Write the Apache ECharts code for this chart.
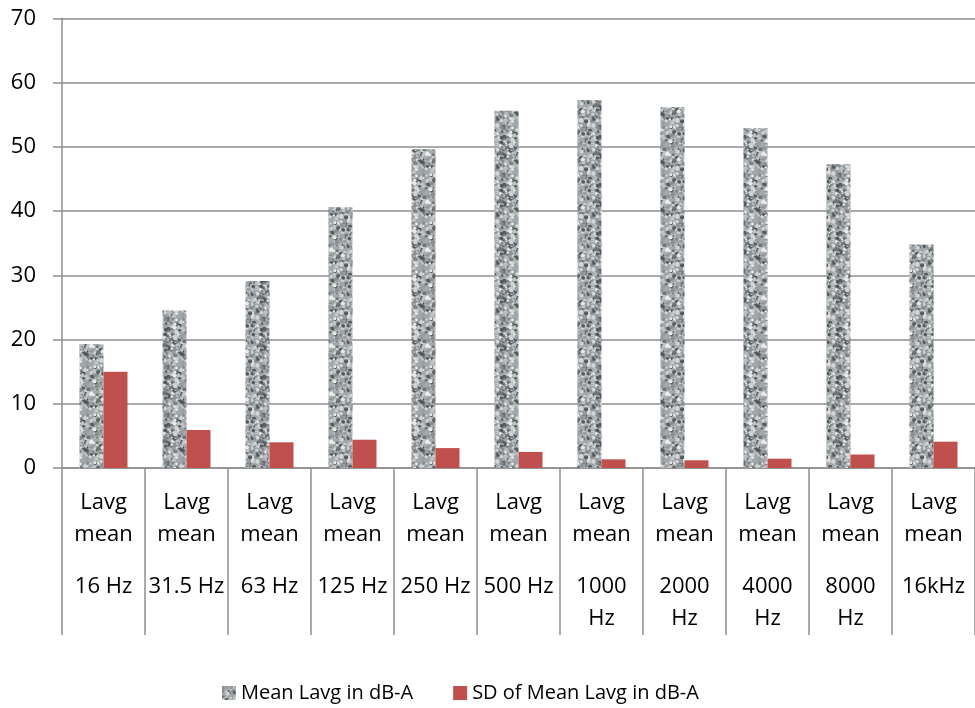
<!DOCTYPE html>
<html>
<head>
<meta charset="utf-8">
<script src="https://cdn.jsdelivr.net/npm/echarts@6/dist/echarts.min.js"></script>
<style>
html,body{margin:0;padding:0;background:#fff;}
#chart{width:975px;height:708px;}
</style>
</head>
<body>
<div id="chart"></div>
<script>
// ---- data ----
var categoryTop = 'Lavg\nmean';
var freqLabels = ['16 Hz','31.5 Hz','63 Hz','125 Hz','250 Hz','500 Hz','1000\nHz','2000\nHz','4000\nHz','8000\nHz','16kHz'];
var meanLavg = [19.3, 24.5, 29.1, 40.6, 49.6, 55.6, 57.3, 56.2, 52.9, 47.3, 34.8];
var sdLavg   = [15.0, 5.9, 4.0, 4.4, 3.1, 2.5, 1.35, 1.2, 1.45, 2.1, 4.1];
var seriesNames = ['Mean Lavg in dB-A', 'SD of Mean Lavg in dB-A'];
var yMin = 0, yMax = 70, yStep = 10;

// ---- texture for the mean bars (style only) ----
function makeTexture() {
  var c = document.createElement('canvas');
  c.width = 48; c.height = 48;
  var ctx = c.getContext('2d');
  ctx.fillStyle = '#a4a9ac';
  ctx.fillRect(0, 0, 48, 48);
  var seed = 12345;
  function rnd() { seed = (seed * 1103515245 + 12345) % 2147483648; return seed / 2147483648; }
  var cols = ['#54595c', '#6f7477', '#d2d6d8', '#e8ebec', '#878c8f', '#bfc3c5', '#989da0'];
  for (var i = 0; i < 420; i++) {
    var x = rnd() * 48, y = rnd() * 48, r = 0.6 + rnd() * 1.6;
    ctx.fillStyle = cols[Math.floor(rnd() * cols.length)];
    for (var dx = -48; dx <= 48; dx += 48) for (var dy = -48; dy <= 48; dy += 48) {
      ctx.beginPath(); ctx.arc(x + dx, y + dy, r, 0, Math.PI * 2); ctx.fill();
    }
  }
  return c;
}
var tex = makeTexture();

var chart = echarts.init(document.getElementById('chart'), null, {renderer: 'canvas'});
var axisColor = '#8f8f8f';
var option = {
  animation: false,
  backgroundColor: '#fff',
  grid: {left: 62, right: 0, top: 18.3, bottom: 240, containLabel: false},
  legend: {
    left: 217, top: 678,
    itemWidth: 14, itemHeight: 14, itemGap: 40,
    icon: 'rect',
    textStyle: {fontFamily: 'Open Sans', fontSize: 20, color: '#000'},
    data: seriesNames
  },
  xAxis: {
    type: 'category',
    data: freqLabels,
    boundaryGap: true,
    axisLine: {lineStyle: {color: axisColor, width: 1.5}},
    axisTick: {show: true, interval: 0, length: 167, lineStyle: {color: axisColor, width: 1.5}},
    axisLabel: {
      interval: 0, margin: 19,
      formatter: function (v) {
        var top = categoryTop.split('\n').map(function (s) { return '{a|' + s + '}'; }).join('\n');
        var bot = v.split('\n').map(function (s) { return '{a|' + s + '}'; }).join('\n');
        return top + '\n{g| }\n' + bot;
      },
      rich: {
        a: {fontFamily: 'Open Sans', fontSize: 22, lineHeight: 32, color: '#000'},
        g: {fontSize: 10, lineHeight: 20}
      }
    }
  },
  yAxis: {
    type: 'value', min: yMin, max: yMax, interval: yStep,
    axisLine: {show: true, lineStyle: {color: axisColor, width: 1.5}},
    axisTick: {show: true, length: 9, lineStyle: {color: axisColor, width: 1.5}},
    splitLine: {show: true, lineStyle: {color: axisColor, width: 1.5}},
    axisLabel: {margin: 26, fontFamily: 'Open Sans', fontSize: 22, color: '#000'}
  },
  series: [
    {
      name: seriesNames[0], type: 'bar', data: meanLavg,
      barWidth: 24, barGap: '0%',
      itemStyle: {color: {image: tex, repeat: 'repeat'}}
    },
    {
      name: seriesNames[1], type: 'bar', data: sdLavg,
      barWidth: 24, barGap: '0%',
      itemStyle: {color: '#c0504d'}
    }
  ]
};
chart.setOption(option);
</script>
</body>
</html>
